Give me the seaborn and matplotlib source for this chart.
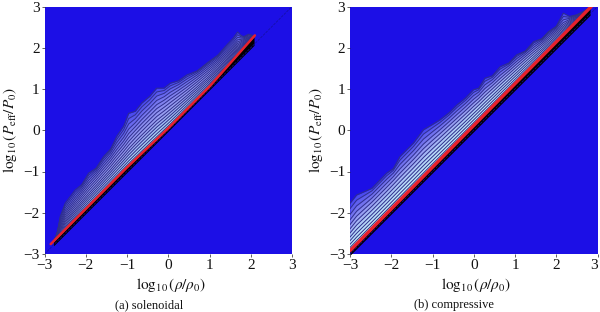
import numpy as np
import pandas as pd
import matplotlib
matplotlib.use("Agg")
import matplotlib.pyplot as plt
import seaborn as sns

sns.set_theme(style="ticks")
plt.rcParams["font.family"] = ["Liberation Serif", "DejaVu Serif"]
plt.rcParams["mathtext.fontset"] = "stix"

# upper envelope of the populated region (jagged), and the smooth inner shape
sol_x = [-2.78, -2.70, -2.62, -2.50, -2.26, -2.10, -1.93, -1.75, -1.57, -1.40, -1.25, -1.08, -0.96, -0.80, -0.64, -0.45, -0.28, -0.10, 0.05, 0.25, 0.45, 0.70, 0.94, 1.20, 1.42, 1.58, 1.68, 1.76, 1.83, 1.95, 2.08]
sol_up = [-2.70, -2.54, -2.09, -1.77, -1.45, -1.32, -1.04, -0.92, -0.64, -0.46, -0.15, 0.10, 0.41, 0.46, 0.66, 0.82, 1.02, 1.02, 1.14, 1.20, 1.34, 1.44, 1.63, 1.82, 2.07, 2.24, 2.38, 2.30, 2.27, 2.33, 2.29]
sol_in = [-2.70, -2.45, -2.15, -1.85, -1.50, -1.28, -1.05, -0.84, -0.62, -0.41, -0.20, 0.02, 0.20, 0.40, 0.58, 0.78, 0.95, 1.05, 1.14, 1.25, 1.36, 1.52, 1.68, 1.86, 2.02, 2.16, 2.25, 2.27, 2.28, 2.29, 2.29]
comp_x = [-3.0, -2.84, -2.47, -2.11, -1.95, -1.79, -1.46, -1.22, -1.00, -0.82, -0.60, -0.41, -0.20, -0.01, 0.12, 0.27, 0.45, 0.64, 0.85, 1.04, 1.25, 1.45, 1.65, 1.81, 2.00, 2.17, 2.32, 2.50, 2.66, 2.82]
comp_up = [-1.77, -1.57, -1.41, -1.04, -0.93, -0.64, -0.31, 0.01, 0.14, 0.25, 0.42, 0.61, 0.78, 0.98, 1.02, 1.26, 1.32, 1.54, 1.63, 1.83, 1.92, 2.15, 2.22, 2.39, 2.52, 2.84, 2.76, 2.80, 2.88, 2.98]
comp_in = [-1.95, -1.72, -1.38, -1.02, -0.85, -0.68, -0.34, -0.08, 0.12, 0.27, 0.46, 0.62, 0.80, 0.97, 1.08, 1.22, 1.37, 1.53, 1.70, 1.85, 2.02, 2.16, 2.30, 2.42, 2.56, 2.68, 2.76, 2.82, 2.90, 2.98]

# red ridge line
sol_red_x = [-2.85, -1.0, 0.0, 1.0, 2.10]
sol_red_y = [-2.76, -0.90, 0.05, 1.06, 2.30]
comp_red_x = [-3.0, 2.85]
comp_red_y = [-2.92, 3.0]

# relative height of each contour between ridge and envelope
sol_levels = [1.0, 0.94, 0.87, 0.79, 0.71, 0.63, 0.55, 0.47, 0.39, 0.32, 0.25, 0.18, 0.11, 0.05]
comp_levels = [1.0, 0.93, 0.84, 0.74, 0.64, 0.54, 0.44, 0.34, 0.25, 0.16, 0.08]
ticks = [-3, -2, -1, 0, 1, 2, 3]
sol_colors = sns.blend_palette(["#4c4cee", "#7272ee", "#8e90f0", "#9ca4f2", "#a4c4f4", "#b8f4ec"], len(sol_levels))
comp_colors = sns.blend_palette(["#4c4cee", "#7272ee", "#98a0f2", "#b0ccf8", "#bee4fa", "#ccf8f0"], len(comp_levels))
BG = "#1c0fe6"


def tick_text(t):
    return f"\u2212{-t}" if t < 0 else str(t)


def panel(ax, x, up, inner, rx, ry, levels, colors, red_w, black):
    x = np.array(x)
    up = np.array(up)
    inner = np.array(inner)
    red = np.interp(x, rx, ry)
    ax.set_facecolor(BG)
    for lev, col in zip(levels, colors):
        edge = lev ** 5 * up + (1 - lev ** 5) * inner
        curve = red + lev * (edge - red)
        ax.fill_between(x, red, curve, color=col, lw=0)
        sns.lineplot(data=pd.DataFrame({"x": x, "y": curve}), x="x", y="y", ax=ax,
                     color="#30308c", lw=0.7, errorbar=None, estimator=None, sort=False)
    ax.fill_between(x, x - black, red, color="black", lw=0)
    sns.lineplot(x=[-3, 3], y=[-3, 3], ax=ax, color="#14109a", lw=0.5, ls="--", errorbar=None)
    sns.lineplot(x=rx, y=ry, ax=ax, color="#e8202c", lw=red_w, errorbar=None)
    ax.set_xlim(-3, 3)
    ax.set_ylim(-3, 3)
    ax.set_xticks(ticks)
    ax.set_yticks(ticks)
    ax.set_xticklabels([tick_text(t) for t in ticks], fontsize=11)
    ax.set_yticklabels([tick_text(t) for t in ticks], fontsize=11)
    ax.tick_params(length=2.5, width=0.5, pad=1, color="#222222", labelcolor="#111111")
    for s in ax.spines.values():
        s.set_visible(False)
    ax.set_xlabel(r"$\log_{10}(\rho/\rho_0)$", fontsize=11, labelpad=3, color="#111111", x=0.51)
    ax.set_ylabel(r"$\log_{10}(P_{\rm eff}/P_0)$", fontsize=11, labelpad=3, color="#111111")


fig = plt.figure(figsize=(6.0, 3.12), dpi=100)
W, H = 600, 312
ax1 = fig.add_axes([44.5 / W, 1 - 254 / H, 247.5 / W, 247.5 / H])
ax2 = fig.add_axes([350 / W, 1 - 254 / H, 247.5 / W, 247.5 / H])
panel(ax1, sol_x, sol_up, sol_in, sol_red_x, sol_red_y, sol_levels, sol_colors, 1.8, 0.02)
panel(ax2, comp_x, comp_up, comp_in, comp_red_x, comp_red_y, comp_levels, comp_colors, 2.4, 0.03)
ax2.get_xticklabels()[-1].set_ha("right")
fig.text(149.5 / W, 1 - 305 / H, "(a) solenoidal", ha="center", va="center", fontsize=9, color="#111111")
fig.text(453.5 / W, 1 - 305 / H, "(b) compressive", ha="center", va="center", fontsize=9, color="#111111")
fig.savefig("out.png", dpi=100)
